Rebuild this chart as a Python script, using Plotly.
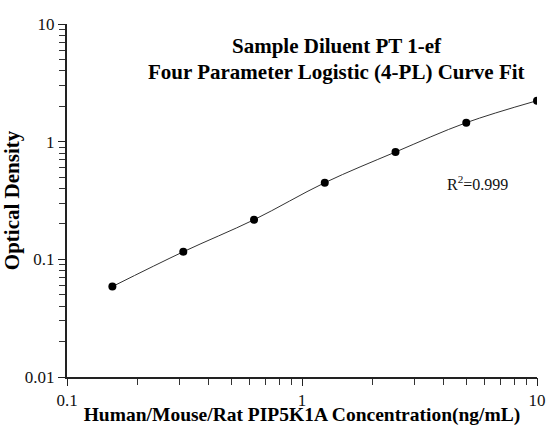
import plotly.graph_objects as go

concentration = [0.156, 0.3125, 0.625, 1.25, 2.5, 5, 10]
optical_density = [0.0587, 0.116, 0.217, 0.448, 0.817, 1.45, 2.23]

y_ticks = [0.01, 0.1, 1, 10]
y_labels = ["0.01", "0.1", "1", "10"]
y_minor = [0.02, 0.03, 0.04, 0.05, 0.06, 0.07, 0.08, 0.09,
           0.2, 0.3, 0.4, 0.5, 0.6, 0.7, 0.8, 0.9,
           2, 3, 4, 5, 6, 7, 8, 9]
x_ticks = [0.1, 1, 10]
x_labels = ["0.1", "1", "10"]
x_minor = [0.2, 0.3, 0.4, 0.5, 0.6, 0.7, 0.8, 0.9,
           2, 3, 4, 5, 6, 7, 8, 9]

title_lines = ["Sample Diluent PT 1-ef", "Four Parameter Logistic (4-PL) Curve Fit"]
x_title = "Human/Mouse/Rat PIP5K1A Concentration(ng/mL)"
y_title = "Optical Density"
r2_text = "R<sup>2</sup>=0.999"

serif = "Liberation Serif, Times New Roman, serif"
ink = "#222222"

fig = go.Figure()
# fitted curve (smooth line through the standards) on the base axes
fig.add_trace(go.Scatter(
    x=concentration, y=optical_density, mode="lines",
    line=dict(color="#333333", width=1, shape="spline"),
    hoverinfo="skip", showlegend=False, xaxis="x", yaxis="y"))
# standard points on the labelled overlay axes (same ranges)
fig.add_trace(go.Scatter(
    x=concentration, y=optical_density, mode="markers",
    marker=dict(color="black", size=8),
    showlegend=False, xaxis="x2", yaxis="y2"))

base = dict(type="log", showgrid=False, zeroline=False, automargin=False)

fig.update_layout(
    # base axes: axis lines + short minor ticks (blank labels)
    xaxis=dict(**base, range=[-1, 1], showline=True, linecolor=ink, linewidth=1.5,
               ticks="outside", ticklen=6, tickwidth=1.2, tickcolor="#333333",
               tickmode="array", tickvals=x_minor, ticktext=[" "] * len(x_minor)),
    yaxis=dict(**base, range=[-2, 1], showline=True, linecolor=ink, linewidth=1.5,
               ticks="outside", ticklen=6, tickwidth=1.2, tickcolor="#333333",
               tickmode="array", tickvals=y_minor, ticktext=[" "] * len(y_minor)),
    # overlay axes: long major ticks, labels and titles
    xaxis2=dict(**base, range=[-1, 1], overlaying="x", anchor="y", side="bottom",
                showline=False, ticks="outside", ticklen=8, tickwidth=1.2, tickcolor=ink,
                tickmode="array", tickvals=x_ticks, ticktext=x_labels, ticklabelstandoff=0,
                tickfont=dict(family=serif, size=17, color="#111111"),
                title=dict(text="<b>" + x_title + "</b>",
                           font=dict(family=serif, size=19.5, color="#000000"), standoff=8)),
    yaxis2=dict(**base, range=[-2, 1], overlaying="y", anchor="x", side="left",
                showline=False, ticks="outside", ticklen=8, tickwidth=1.2, tickcolor=ink,
                tickmode="array", tickvals=y_ticks, ticktext=y_labels, ticklabelstandoff=0,
                tickfont=dict(family=serif, size=17, color="#111111"),
                title=dict(text="<b>" + y_title + "</b>",
                           font=dict(family=serif, size=21, color="#000000"), standoff=2)),
)

fig.add_annotation(x=0.574, y=0.9376, xref="paper", yref="paper", xanchor="center", yanchor="middle",
                   showarrow=False, text="<b>" + title_lines[0] + "</b>",
                   font=dict(family=serif, size=21, color="#000000"))
fig.add_annotation(x=0.574, y=0.864, xref="paper", yref="paper", xanchor="center", yanchor="middle",
                   showarrow=False, text="<b>" + title_lines[1] + "</b>",
                   font=dict(family=serif, size=21, color="#000000"))
fig.add_annotation(x=0.804, y=0.549, xref="paper", yref="paper", xanchor="left", yanchor="middle",
                   showarrow=False, text=r2_text,
                   font=dict(family=serif, size=16, color="#111111"))

fig.update_layout(width=547, height=426, plot_bgcolor="white", paper_bgcolor="white",
                  margin=dict(l=67, r=10, t=24, b=49))

# remove the browser's default 8px body margin so the figure fills the window exactly
fig.write_html("out.html", config={"displayModeBar": False},
               post_script="document.body.style.margin='0';document.body.style.overflow='hidden';")
